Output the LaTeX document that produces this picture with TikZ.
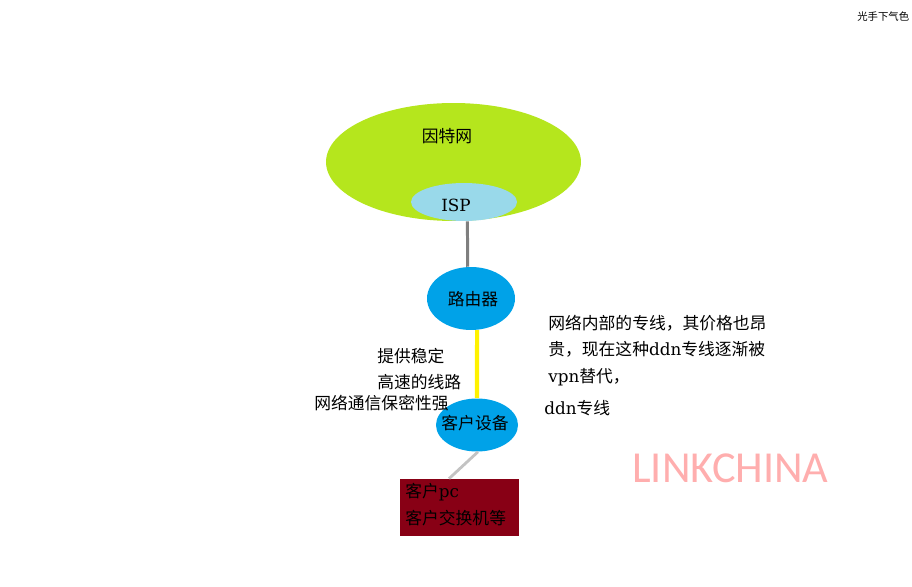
\documentclass[tikz,border=0pt]{standalone}
\usepackage{fontspec}
\usepackage{tikz}
\usetikzlibrary{shapes.geometric}
\setmainfont{DejaVu Serif}
\newfontfamily\cjk{Noto Sans CJK SC}
\newfontfamily\wm{Carlito}
\newcommand{\lat}[1]{{\rmfamily #1}}
\definecolor{netgreen}{HTML}{B5E61D}
\definecolor{ispblue}{HTML}{99D9EA}
\definecolor{devblue}{HTML}{00A2E8}
\definecolor{linegray}{HTML}{7F7F7F}
\definecolor{lineyellow}{HTML}{FFF200}
\definecolor{linelight}{HTML}{C3C3C3}
\definecolor{boxred}{HTML}{880015}
\definecolor{markpink}{HTML}{FFAEAE}
\tikzset{
  blob/.style={ellipse,inner sep=0pt,fill=#1},
  txt/.style={inner sep=0pt,font=\fontsize{9.55}{15}\selectfont\cjk,text=black},
  txtl/.style={txt,anchor=west,align=left}
}

\begin{document}
\begin{tikzpicture}[x=0.02cm,y=-0.02cm]
\useasboundingbox (0,0) rectangle (912,587);
% Ellipses
\node[blob=netgreen,minimum width=5.1cm,minimum height=2.36cm] (net) at (453.5,162) {};
\node[blob=ispblue,minimum width=2.12cm,minimum height=0.76cm] (isp) at (464,202) {};
\node[blob=devblue,minimum width=1.76cm,minimum height=1.26cm] (router) at (471,298.5) {};
\node[blob=devblue,minimum width=1.64cm,minimum height=1.06cm] (client) at (477,425) {};
% Customer box
\node[fill=boxred,inner sep=0pt,minimum width=2.38cm,minimum height=1.14cm] (box) at (459.5,507.5) {};
% Links
\draw[linegray,line width=1.7pt] (isp.-80) -- (router.96);
\draw[lineyellow,line width=2.4pt] (router.-79) -- (client.north);
\draw[linelight,line width=1.6pt] (client.-88) -- (box.110);
% Labels on the shapes
\node[txt] (netlabel) at (447,136) {因特网};
\node[txt] (isplabel) at (456,205) {\lat{ISP}};
\node[txt] (routerlabel) at (473,299) {路由器};
\node[txt] (clientlabel) at (475,423) {客户设备};
\node[txtl] (boxlabel) at (405,504.5) {客户\lat{pc}\\客户交换机等};
% Side notes
\node[txtl] (speed) at (377,369) {提供稳定\\高速的线路};
\node[txtl] (secure) at (314,403) {网络通信保密性强};
\node[txtl] (note) at (548,350.5) {网络内部的专线，其价格也昂\\贵，现在这种\lat{ddn}专线逐渐被\\\lat{vpn}替代，};
\node[txtl] (ddn) at (544,408) {\lat{ddn}专线};
% Watermarks
\node[inner sep=0pt,anchor=west,text=markpink,font=\fontsize{25.2}{28}\selectfont\wm] (mark) at (632,468) {LINKCHINA};
\node[inner sep=0pt,anchor=west,font=\fontsize{5.9}{6}\selectfont\cjk] (corner) at (857,17) {光手下气色};
\end{tikzpicture}
\end{document}
